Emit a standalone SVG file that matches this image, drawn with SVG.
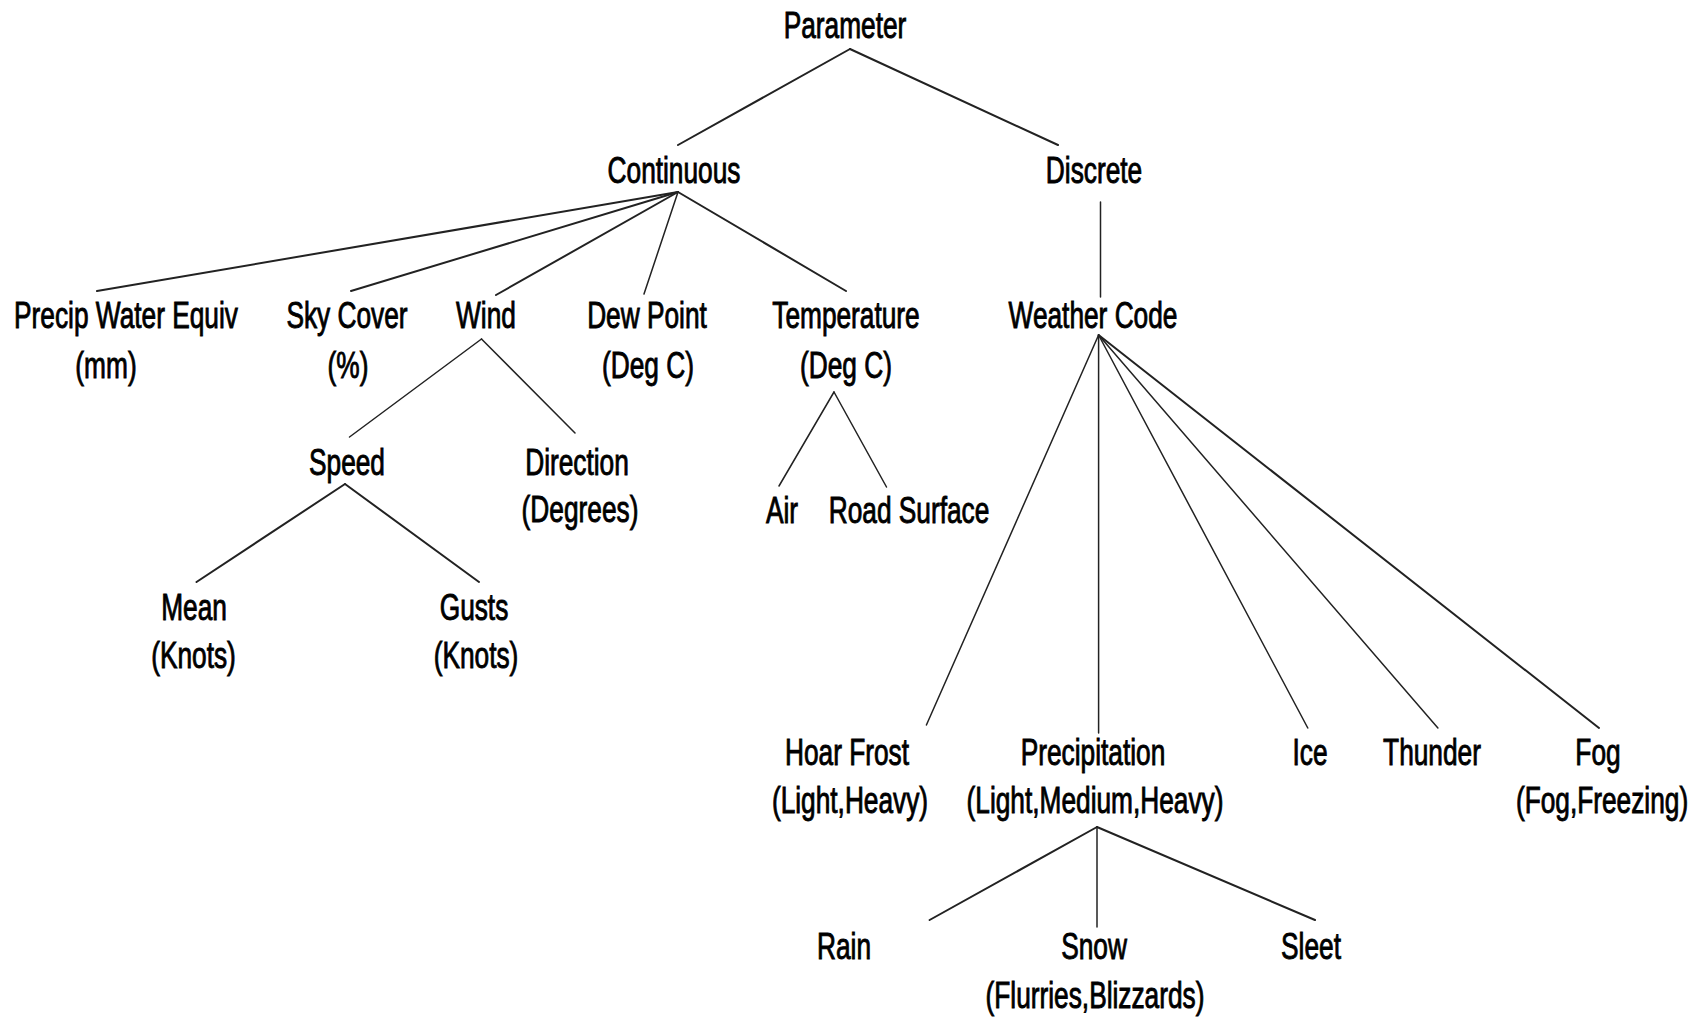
<svg xmlns="http://www.w3.org/2000/svg" width="1696" height="1020" viewBox="0 0 1696 1020">
<style>
.t{font-family:"Liberation Sans",Arial,sans-serif;font-size:36px;fill:#000;stroke:#000;stroke-width:0.9;text-anchor:middle}
.c line{stroke:#222;stroke-width:2;stroke-linecap:round}
.c line.thin{stroke-width:1.5}
</style>
<rect width="1696" height="1020" fill="#fff"/>
<g id="connectors" class="c">
<line x1="850" y1="49" x2="678" y2="145"/>
<line x1="850" y1="49" x2="1058" y2="145"/>
<line x1="1100.5" y1="202" x2="1100.5" y2="297" class="thin"/>
<line x1="678" y1="192" x2="97" y2="291"/>
<line x1="678" y1="192" x2="351" y2="291"/>
<line x1="678" y1="192" x2="496" y2="295"/>
<line x1="678" y1="192" x2="644" y2="294" class="thin"/>
<line x1="678" y1="192" x2="846" y2="291"/>
<line x1="481.5" y1="339" x2="349.5" y2="437" class="thin"/>
<line x1="481.5" y1="339" x2="575" y2="433" class="thin"/>
<line x1="345" y1="484" x2="196.5" y2="582"/>
<line x1="345" y1="484" x2="479" y2="582"/>
<line x1="834" y1="392" x2="779" y2="486" class="thin"/>
<line x1="834" y1="392" x2="886.5" y2="487" class="thin"/>
<line x1="1098.6" y1="335" x2="926.4" y2="725" class="thin"/>
<line x1="1098.6" y1="335" x2="1098.6" y2="733" class="thin"/>
<line x1="1098.6" y1="335" x2="1307.8" y2="728" class="thin"/>
<line x1="1098.6" y1="335" x2="1437.9" y2="728" class="thin"/>
<line x1="1098.6" y1="335" x2="1599" y2="728"/>
<line x1="1097" y1="827" x2="929.6" y2="920"/>
<line x1="1097" y1="827" x2="1097" y2="927" class="thin"/>
<line x1="1097" y1="827" x2="1315" y2="920"/>
</g>
<g id="parameter"><text class="t" transform="translate(845,38) scale(0.73,1)">Parameter</text></g>
<g id="continuous"><text class="t" transform="translate(674,183) scale(0.73,1)">Continuous</text></g>
<g id="discrete"><text class="t" transform="translate(1094,183) scale(0.73,1)">Discrete</text></g>
<g id="precip-water"><text class="t" transform="translate(126,328) scale(0.73,1)">Precip Water Equiv</text><text class="t" transform="translate(106,378) scale(0.73,1)">(mm)</text></g>
<g id="sky-cover"><text class="t" transform="translate(347,328) scale(0.73,1)">Sky Cover</text><text class="t" transform="translate(348,378) scale(0.73,1)">(%)</text></g>
<g id="wind"><text class="t" transform="translate(486,328) scale(0.73,1)">Wind</text></g>
<g id="dew-point"><text class="t" transform="translate(647,328) scale(0.73,1)">Dew Point</text><text class="t" transform="translate(648,378) scale(0.73,1)">(Deg C)</text></g>
<g id="temperature"><text class="t" transform="translate(846,328) scale(0.73,1)">Temperature</text><text class="t" transform="translate(846,378) scale(0.73,1)">(Deg C)</text></g>
<g id="weather-code"><text class="t" transform="translate(1093,328) scale(0.73,1)">Weather Code</text></g>
<g id="speed"><text class="t" transform="translate(347,475) scale(0.73,1)">Speed</text></g>
<g id="direction"><text class="t" transform="translate(577,475) scale(0.73,1)">Direction</text><text class="t" transform="translate(580,522) scale(0.73,1)">(Degrees)</text></g>
<g id="air"><text class="t" transform="translate(782,523) scale(0.73,1)">Air</text></g>
<g id="road-surface"><text class="t" transform="translate(909,523) scale(0.73,1)">Road Surface</text></g>
<g id="mean"><text class="t" transform="translate(194,620) scale(0.73,1)">Mean</text><text class="t" transform="translate(193.5,668) scale(0.73,1)">(Knots)</text></g>
<g id="gusts"><text class="t" transform="translate(474,620) scale(0.73,1)">Gusts</text><text class="t" transform="translate(476,668) scale(0.73,1)">(Knots)</text></g>
<g id="hoar-frost"><text class="t" transform="translate(847,765) scale(0.73,1)">Hoar Frost</text><text class="t" transform="translate(850,813) scale(0.73,1)">(Light,Heavy)</text></g>
<g id="precipitation"><text class="t" transform="translate(1093,765) scale(0.73,1)">Precipitation</text><text class="t" transform="translate(1095,813) scale(0.73,1)">(Light,Medium,Heavy)</text></g>
<g id="ice"><text class="t" transform="translate(1310,765) scale(0.73,1)">Ice</text></g>
<g id="thunder"><text class="t" transform="translate(1432,765) scale(0.73,1)">Thunder</text></g>
<g id="fog"><text class="t" transform="translate(1598,765) scale(0.73,1)">Fog</text><text class="t" transform="translate(1602,813) scale(0.73,1)">(Fog,Freezing)</text></g>
<g id="rain"><text class="t" transform="translate(844,959) scale(0.73,1)">Rain</text></g>
<g id="snow"><text class="t" transform="translate(1094,959) scale(0.73,1)">Snow</text><text class="t" transform="translate(1095,1008) scale(0.73,1)">(Flurries,Blizzards)</text></g>
<g id="sleet"><text class="t" transform="translate(1311,959) scale(0.73,1)">Sleet</text></g>
</svg>
